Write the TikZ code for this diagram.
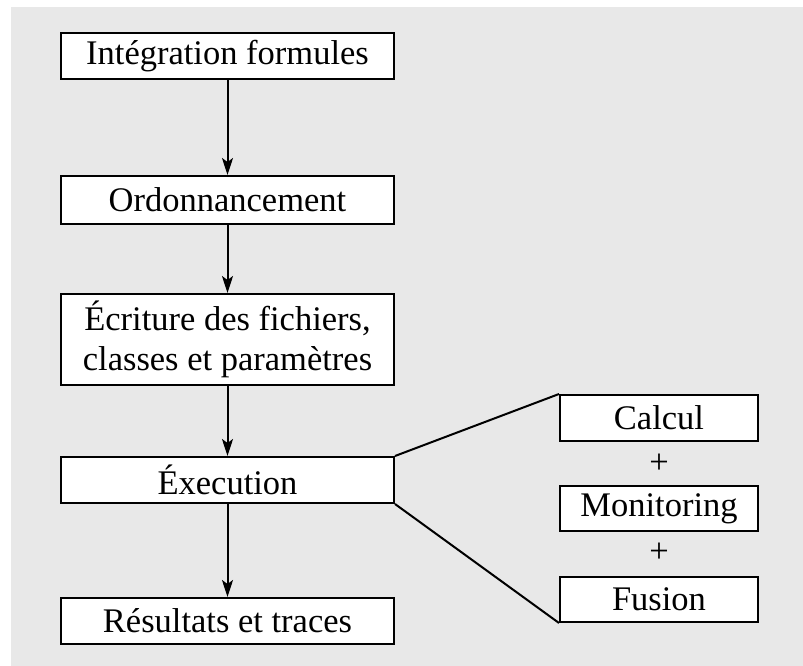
\documentclass[tikz,border=0pt]{standalone}
\usepackage{fontspec}
\setmainfont{Liberation Serif}
\usepackage{tikz}
\usetikzlibrary{arrows.meta}
\usepackage{xcolor}
\definecolor{bggray}{RGB}{232, 232, 232}

\begin{document}
\begin{tikzpicture}[x=1pt, y=-1pt, >={Stealth[length=17pt, width=11pt, inset=4pt]},
    stepbox/.style={draw, fill=white, line width=2pt, minimum width=333pt, minimum height=46pt,
      inner sep=0pt, align=center, font=\fontsize{34.5}{40}\selectfont},
    subbox/.style={stepbox, minimum width=198pt}]
    \useasboundingbox (0, 0) rectangle (803, 666);
    \fill[bggray] (11, 7) rectangle (803, 666);
    \node[stepbox] (integ) at (227.5, 56) {Intégration formules};
    \node[stepbox, minimum height=48pt] (ordo) at (227.5, 200) {Ordonnancement};
    \node[stepbox, minimum height=91pt] (ecrit) at (227.5, 339.5) {Écriture des fichiers,\\classes et paramètres};
    \node[stepbox] (exec) at (227.5, 480) {Éxecution};
    \node[stepbox] (result) at (227.5, 621) {Résultats et traces};
    \node[subbox] (calcul) at (659, 418) {Calcul};
    \node[subbox, minimum height=45pt] (monit) at (659, 508.5) {Monitoring};
    \node[subbox, minimum height=45pt] (fusion) at (659, 599.5) {Fusion};
    \node[font=\fontsize{34.5}{40}\selectfont] (plusa) at (659, 464) {+};
    \node[font=\fontsize{34.5}{40}\selectfont] (plusb) at (659, 553) {+};
    \draw[->, line width=2pt] (integ) -- (ordo);
    \draw[->, line width=2pt] (ordo) -- (ecrit);
    \draw[->, line width=2pt] (ecrit) -- (exec);
    \draw[->, line width=2pt] (exec) -- (result);
    \draw[line width=2pt] (exec.north east) -- (calcul.north west);
    \draw[line width=2pt] (exec.south east) -- (fusion.south west);
  \end{tikzpicture}
\end{document}
